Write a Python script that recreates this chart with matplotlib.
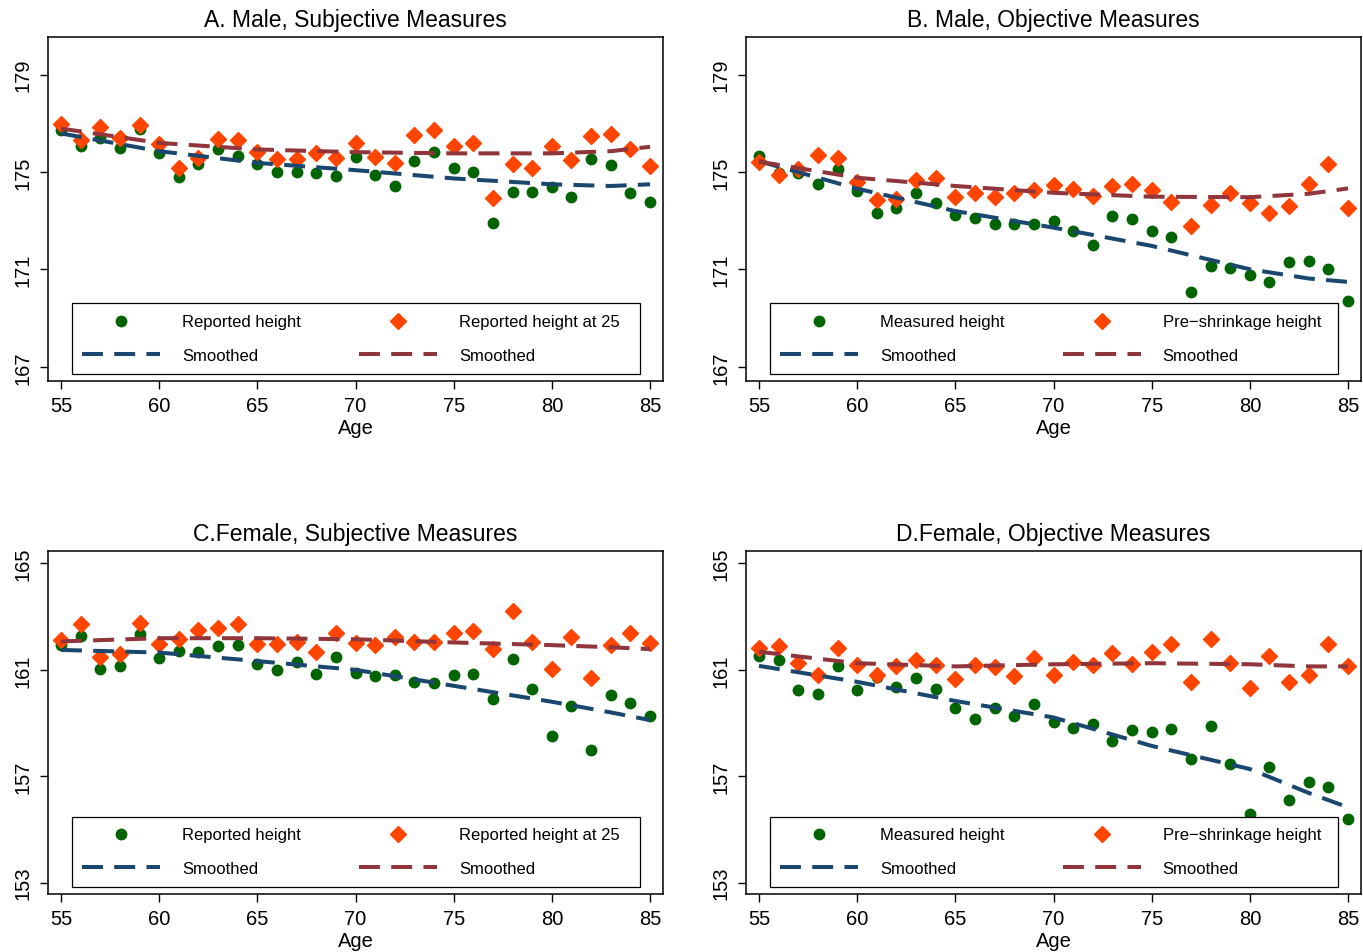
import numpy as np
import matplotlib.pyplot as plt
from matplotlib.patches import Rectangle

plt.rcParams['font.family'] = ['Liberation Sans', 'DejaVu Sans']

age = np.arange(55, 86)
sm_age = [55, 60, 65, 70, 75, 80, 83, 85]

# A. male, self-reported
a_rep = [176.75, 176.07, 176.41, 176.0, 176.79, 175.8, 174.81, 175.32, 175.97, 175.68,
         175.32, 175.02, 175.02, 174.95, 174.84, 175.63, 174.9, 174.43, 175.44, 175.82,
         175.15, 175.02, 172.93, 174.18, 174.18, 174.4, 173.98, 175.52, 175.3, 174.16, 173.79]
a_r25 = [176.98, 176.3, 176.84, 176.41, 176.95, 176.16, 175.18, 175.59, 176.37, 176.3,
         175.82, 175.55, 175.55, 175.77, 175.59, 176.2, 175.63, 175.36, 176.53, 176.71,
         176.09, 176.18, 173.92, 175.32, 175.18, 176.07, 175.48, 176.5, 176.57, 175.97, 175.25]
a_sm1 = [176.59, 175.86, 175.38, 175.08, 174.74, 174.5, 174.43, 174.5]
a_sm2 = [176.79, 176.2, 175.93, 175.82, 175.77, 175.77, 175.86, 176.04]

# B. male, measured
b_mea = [175.68, 174.95, 174.95, 174.5, 175.11, 174.22, 173.34, 173.51, 174.15, 173.72,
         173.24, 173.1, 172.86, 172.86, 172.86, 172.99, 172.57, 172.0, 173.2, 173.06,
         172.57, 172.34, 170.06, 171.15, 171.08, 170.78, 170.47, 171.29, 171.33, 171.0, 169.71]
b_pre = [175.41, 174.9, 175.11, 175.7, 175.57, 174.59, 173.84, 173.91, 174.67, 174.77,
         173.98, 174.13, 173.99, 174.15, 174.26, 174.47, 174.32, 174.02, 174.45, 174.5,
         174.25, 173.79, 172.79, 173.65, 174.15, 173.72, 173.34, 173.61, 174.52, 175.34, 173.51]
b_sm1 = [175.45, 174.32, 173.4, 172.72, 171.97, 171.01, 170.63, 170.49]
b_sm2 = [175.43, 174.77, 174.43, 174.15, 173.99, 173.97, 174.11, 174.33]

# C. female, self-reported
c_rep = [161.93, 162.26, 161.05, 161.15, 162.34, 161.43, 161.71, 161.68, 161.88, 161.95,
         161.21, 161.0, 161.3, 160.86, 161.47, 160.88, 160.78, 160.8, 160.53, 160.5,
         160.8, 160.83, 159.89, 161.4, 160.27, 158.51, 159.65, 157.97, 160.04, 159.77, 159.25]
c_r25 = [162.12, 162.74, 161.47, 161.59, 162.76, 161.99, 162.15, 162.5, 162.56, 162.74,
         161.99, 161.99, 162.03, 161.68, 162.38, 162.0, 161.93, 162.24, 162.03, 162.03,
         162.38, 162.47, 161.78, 163.22, 162.03, 161.03, 162.22, 160.69, 161.93, 162.37, 162.0]
c_sm1 = [161.75, 161.65, 161.33, 161.0, 160.4, 159.8, 159.4, 159.11]
c_sm2 = [162.07, 162.19, 162.19, 162.15, 162.03, 161.93, 161.85, 161.78]

# D. female, measured
d_mea = [161.53, 161.38, 160.25, 160.08, 161.15, 160.24, 160.75, 160.36, 160.71, 160.27,
         159.55, 159.15, 159.56, 159.27, 159.71, 159.05, 158.83, 158.98, 158.33, 158.74,
         158.67, 158.77, 157.64, 158.9, 157.45, 155.58, 157.33, 156.11, 156.77, 156.6, 155.39]
d_pre = [161.84, 161.88, 161.25, 160.8, 161.84, 161.18, 160.8, 161.13, 161.38, 161.18,
         160.65, 161.18, 161.09, 160.77, 161.43, 160.8, 161.3, 161.18, 161.65, 161.21,
         161.68, 161.97, 160.56, 162.15, 161.24, 160.3, 161.53, 160.55, 160.8, 161.97, 161.13]
d_sm1 = [161.15, 160.55, 159.83, 159.21, 158.14, 157.27, 156.37, 155.83]
d_sm2 = [161.68, 161.25, 161.13, 161.21, 161.25, 161.21, 161.13, 161.13]

GREEN = '#006400'
ORANGE = '#ff4500'
NAVY = '#1a476f'
MAROON = '#90353b'
dash = (0, (5.2, 2.8))

panels = [
    ('A. Male, Subjective Measures', a_rep, a_r25, a_sm1, a_sm2,
     'Reported height', 'Reported height at 25', [167, 171, 175, 179], (166.42, 180.55)),
    ('B. Male, Objective Measures', b_mea, b_pre, b_sm1, b_sm2,
     'Measured height', 'Pre\u2212shrinkage height', [167, 171, 175, 179], (166.42, 180.55)),
    ('C.Female, Subjective Measures', c_rep, c_r25, c_sm1, c_sm2,
     'Reported height', 'Reported height at 25', [153, 157, 161, 165], (152.57, 165.47)),
    ('D.Female, Objective Measures', d_mea, d_pre, d_sm1, d_sm2,
     'Measured height', 'Pre\u2212shrinkage height', [153, 157, 161, 165], (152.57, 165.47)),
]

W, H = 1363, 953
boxes = [(48, 38, 663, 382), (746, 38, 1361, 382),
         (48, 552, 663, 895), (746, 552, 1361, 895)]

fig = plt.figure(figsize=(W / 100, H / 100), dpi=100)

for (title, y1, y2, s1, s2, lab1, lab2, yt, ylim), (x0, t, x1, b) in zip(panels, boxes):
    ax = fig.add_axes([x0 / W, 1 - b / H, (x1 - x0) / W, (b - t) / H])
    ax.plot(age, y1, 'o', color=GREEN, ms=7.5, ls='none', label=lab1, zorder=2)
    ax.plot(age, y2, 'D', color=ORANGE, ms=8.5, ls='none', label=lab2, zorder=3)
    ax.plot(sm_age, s1, color=NAVY, lw=2.9, ls=dash, label='Smoothed', zorder=4)
    ax.plot(sm_age, s2, color=MAROON, lw=2.9, ls=dash, label='Smoothed', zorder=4)

    ax.set_xlim(54.34, 85.66)
    ax.set_ylim(*ylim)
    ax.set_xticks(range(55, 86, 5))
    ax.set_yticks(yt)
    ax.tick_params(axis='both', labelsize=14.5, length=5.8, width=1,
                   pad=5.2, direction='out')
    for lbl in ax.get_yticklabels():
        lbl.set_rotation(90)
        lbl.set_va('center')
    for sp in ax.spines.values():
        sp.set_linewidth(1.1)
    ax.set_title(title, fontsize=16.5, pad=8)
    ax.set_xlabel('Age', fontsize=14.5, labelpad=2)

    # legend box drawn by hand, entries placed inside it
    ax.add_patch(Rectangle((0.039, 0.0204), 0.9236, 0.205, transform=ax.transAxes,
                           fill=True, facecolor='white', edgecolor='black',
                           lw=0.9, zorder=5))
    h, l = ax.get_legend_handles_labels()
    order = [0, 2, 1, 3]
    leg = ax.legend([h[i] for i in order], [l[i] for i in order],
                    ncol=2, loc='center left', bbox_to_anchor=(0.0553, 0.1235),
                    fontsize=12, handlelength=4.68, handletextpad=1.32,
                    columnspacing=3.48, borderpad=0, labelspacing=1.1,
                    frameon=False, borderaxespad=0)
    leg.set_zorder(6)

fig.savefig('out.png', dpi=100)
